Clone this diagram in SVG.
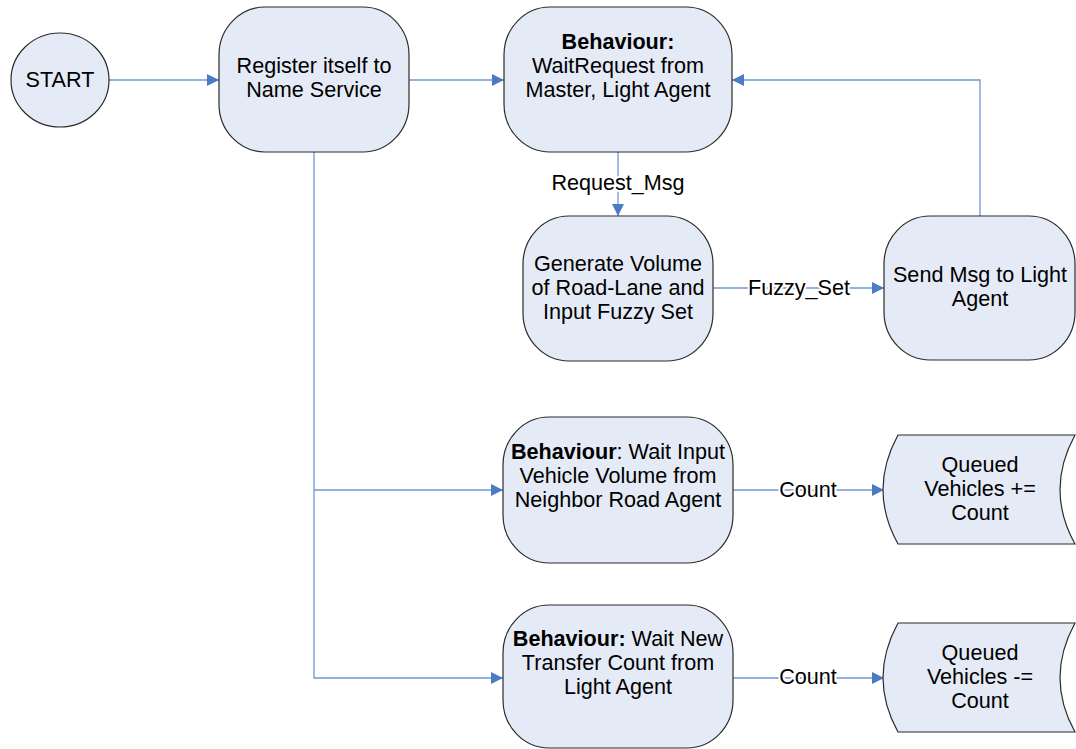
<svg xmlns="http://www.w3.org/2000/svg" width="1076" height="749" viewBox="0 0 1076 749">
  <style>
    .node { fill: #e5ebf6; stroke: #2b2b2b; stroke-width: 1.2; }
    .edge { fill: none; stroke: #6f97d3; stroke-width: 1.3; }
    text { font-family: "Liberation Sans", Arial, sans-serif; font-size: 21.6px; fill: #000; text-anchor: middle; }
    .b { font-weight: bold; }
    .lbl { paint-order: stroke; stroke: #ffffff; stroke-width: 4px; stroke-linejoin: round; }
  </style>
  <defs>
    <marker id="arrow" markerUnits="userSpaceOnUse" markerWidth="13" markerHeight="12" refX="12" refY="6" orient="auto">
      <path d="M0,0 L12,6 L0,12 Z" fill="#4a7cc4"/>
    </marker>
  </defs>
  <rect width="1076" height="749" fill="#ffffff"/>

  <!-- connectors -->
  <g id="connectors">
    <path class="edge" d="M109,80 H219" marker-end="url(#arrow)"/>
    <path class="edge" d="M409,80 H504" marker-end="url(#arrow)"/>
    <path class="edge" d="M980,216 V80 H732" marker-end="url(#arrow)"/>
    <path class="edge" d="M618,152 V216" marker-end="url(#arrow)"/>
    <path class="edge" d="M713,288 H884" marker-end="url(#arrow)"/>
    <path class="edge" d="M314,152 V678 H503" marker-end="url(#arrow)"/>
    <path class="edge" d="M314,490 H503" marker-end="url(#arrow)"/>
    <path class="edge" d="M733,490 H884" marker-end="url(#arrow)"/>
    <path class="edge" d="M733,678 H884" marker-end="url(#arrow)"/>
    <text class="lbl" x="618" y="190">Request_Msg</text>
    <text class="lbl" x="799" y="295">Fuzzy_Set</text>
    <text class="lbl" x="808" y="497">Count</text>
    <text class="lbl" x="808" y="684">Count</text>
  </g>

  <g id="start">
    <ellipse class="node" cx="60" cy="80" rx="49" ry="47"/>
    <text x="60" y="87">START</text>
  </g>

  <g id="register">
    <rect class="node" x="219" y="7" width="190" height="145" rx="46" ry="48"/>
    <text x="314" y="73">Register itself to</text>
    <text x="314" y="97">Name Service</text>
  </g>

  <g id="wait-request">
    <rect class="node" x="504" y="7" width="228" height="145" rx="46" ry="48"/>
    <text class="b" x="618" y="49">Behaviour:</text>
    <text x="618" y="73">WaitRequest from</text>
    <text x="618" y="97">Master, Light Agent</text>
  </g>

  <g id="generate">
    <rect class="node" x="523" y="216" width="190" height="145" rx="46" ry="48"/>
    <text x="618" y="271">Generate Volume</text>
    <text x="618" y="295">of Road-Lane and</text>
    <text x="618" y="319">Input Fuzzy Set</text>
  </g>

  <g id="send-msg">
    <rect class="node" x="884" y="216" width="191" height="144" rx="46" ry="48"/>
    <text x="980" y="282">Send Msg to Light</text>
    <text x="980" y="306">Agent</text>
  </g>

  <g id="wait-input">
    <rect class="node" x="503" y="417" width="230" height="146" rx="46" ry="48"/>
    <text x="618" y="459"><tspan class="b">Behaviour</tspan>: Wait Input</text>
    <text x="618" y="483">Vehicle Volume from</text>
    <text x="618" y="507">Neighbor Road Agent</text>
  </g>

  <g id="wait-new">
    <rect class="node" x="503" y="605" width="230" height="143" rx="46" ry="48"/>
    <text x="618" y="646"><tspan class="b">Behaviour:</tspan> Wait New</text>
    <text x="618" y="670">Transfer Count from</text>
    <text x="618" y="694">Light Agent</text>
  </g>

  <g id="queued-add">
    <path class="node" d="M898,435 H1075 Q1045,490 1075,544 H898 Q868,490 898,435 Z"/>
    <text x="980" y="472">Queued</text>
    <text x="980" y="496">Vehicles +=</text>
    <text x="980" y="520">Count</text>
  </g>

  <g id="queued-sub">
    <path class="node" d="M898,623 H1075 Q1045,678 1075,732 H898 Q868,678 898,623 Z"/>
    <text x="980" y="660">Queued</text>
    <text x="980" y="684">Vehicles -=</text>
    <text x="980" y="708">Count</text>
  </g>
</svg>
